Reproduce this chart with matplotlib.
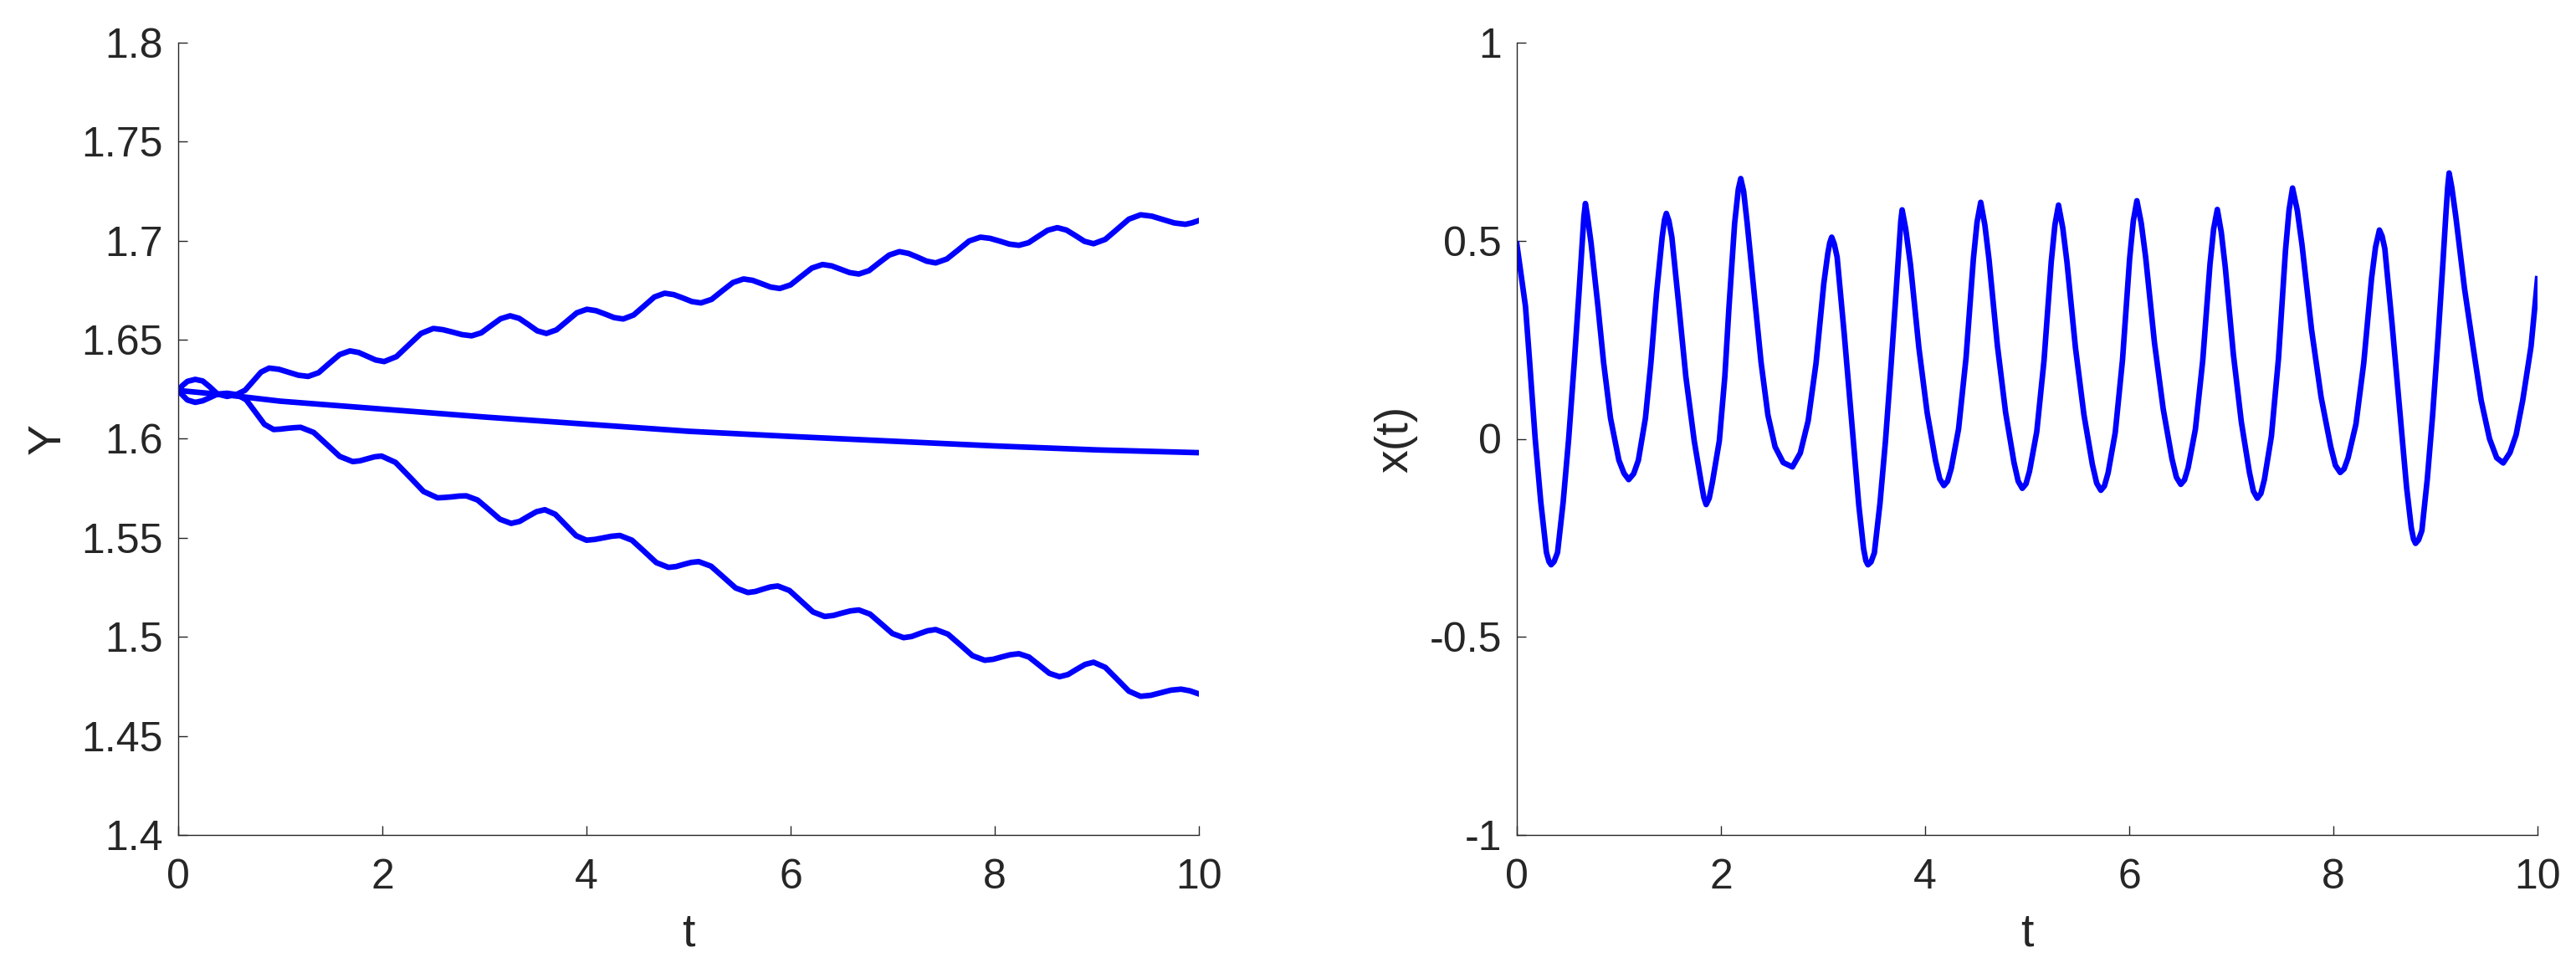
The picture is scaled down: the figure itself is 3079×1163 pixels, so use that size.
import matplotlib
matplotlib.use("Agg")
import matplotlib.pyplot as plt

# ---------------- data ----------------
# Left panel: three trajectories Y(t)
t_mid = [0, 0.5, 1, 1.5, 2, 3, 4, 5, 6, 7, 8, 9, 10]
y_mid = [1.6244, 1.6220, 1.6190, 1.6170, 1.6150, 1.6110, 1.6074, 1.6038,
         1.6012, 1.5988, 1.5964, 1.5944, 1.5930]

t_up = [0.000, 0.040, 0.090, 0.167, 0.240, 0.310, 0.385, 0.480, 0.576,
        0.655, 0.734, 0.812, 0.891, 0.987, 1.082, 1.178, 1.273,
        1.376, 1.478, 1.581, 1.683, 1.767, 1.851, 1.934, 2.018,
        2.138, 2.259, 2.379, 2.499, 2.593, 2.687, 2.781, 2.875,
        2.969, 3.064, 3.158, 3.252, 3.341, 3.430, 3.518, 3.607,
        3.706, 3.806, 3.905, 4.004, 4.093, 4.182, 4.271, 4.360,
        4.462, 4.563, 4.665, 4.766, 4.855, 4.944, 5.032, 5.121,
        5.226, 5.330, 5.435, 5.539, 5.628, 5.717, 5.805, 5.894,
        5.999, 6.104, 6.208, 6.313, 6.402, 6.491, 6.579, 6.668,
        6.768, 6.867, 6.967, 7.066, 7.155, 7.244, 7.332, 7.421,
        7.531, 7.641, 7.750, 7.860, 7.954, 8.049, 8.143, 8.237,
        8.331, 8.425, 8.519, 8.613, 8.702, 8.791, 8.879, 8.968,
        9.083, 9.199, 9.314, 9.429, 9.539, 9.648, 9.758, 9.867,
        9.930, 10.000]
y_up = [1.6244, 1.6268, 1.6290, 1.6300, 1.6292, 1.6262, 1.6226, 1.6214, 1.6225,
        1.6245, 1.6291, 1.6337, 1.6357, 1.6351, 1.6336, 1.6321, 1.6315,
        1.6334, 1.6380, 1.6425, 1.6444, 1.6436, 1.6417, 1.6398, 1.6390,
        1.6415, 1.6474, 1.6532, 1.6557, 1.6551, 1.6539, 1.6526, 1.6520,
        1.6535, 1.6571, 1.6606, 1.6621, 1.6608, 1.6577, 1.6545, 1.6532,
        1.6550, 1.6593, 1.6636, 1.6654, 1.6647, 1.6630, 1.6612, 1.6605,
        1.6625, 1.6670, 1.6716, 1.6735, 1.6728, 1.6711, 1.6693, 1.6686,
        1.6704, 1.6747, 1.6789, 1.6807, 1.6800, 1.6783, 1.6766, 1.6759,
        1.6777, 1.6820, 1.6862, 1.6880, 1.6873, 1.6856, 1.6839, 1.6832,
        1.6849, 1.6889, 1.6928, 1.6945, 1.6936, 1.6917, 1.6897, 1.6888,
        1.6908, 1.6953, 1.6999, 1.7018, 1.7012, 1.6998, 1.6983, 1.6977,
        1.6990, 1.7022, 1.7053, 1.7066, 1.7054, 1.7026, 1.6997, 1.6985,
        1.7007, 1.7058, 1.7109, 1.7131, 1.7124, 1.7107, 1.7090, 1.7083,
        1.7090, 1.7102]

t_low = [0.000, 0.040, 0.090, 0.167, 0.240, 0.310, 0.385, 0.480, 0.576,
         0.666, 0.756, 0.845, 0.935, 1.001, 1.068, 1.134, 1.200,
         1.328, 1.455, 1.583, 1.710, 1.781, 1.851, 1.922, 1.992,
         2.129, 2.267, 2.404, 2.541, 2.612, 2.682, 2.753, 2.823,
         2.933, 3.043, 3.152, 3.262, 3.345, 3.427, 3.510, 3.592,
         3.694, 3.796, 3.898, 4.000, 4.082, 4.164, 4.245, 4.327,
         4.446, 4.565, 4.684, 4.803, 4.877, 4.952, 5.026, 5.100,
         5.220, 5.341, 5.461, 5.581, 5.654, 5.728, 5.801, 5.874,
         5.989, 6.104, 6.219, 6.334, 6.418, 6.501, 6.585, 6.668,
         6.778, 6.888, 6.997, 7.107, 7.186, 7.264, 7.343, 7.421,
         7.541, 7.662, 7.782, 7.902, 7.986, 8.070, 8.153, 8.237,
         8.336, 8.436, 8.535, 8.634, 8.718, 8.801, 8.885, 8.968,
         9.083, 9.199, 9.314, 9.429, 9.528, 9.627, 9.726, 9.825,
         9.910, 10.000]
y_low = [1.6244, 1.6222, 1.6196, 1.6184, 1.6192, 1.6208, 1.6226, 1.6230, 1.6223,
         1.6197, 1.6135, 1.6073, 1.6047, 1.6049, 1.6053, 1.6056, 1.6058,
         1.6032, 1.5972, 1.5911, 1.5885, 1.5889, 1.5899, 1.5909, 1.5913,
         1.5881, 1.5808, 1.5734, 1.5702, 1.5704, 1.5707, 1.5711, 1.5712,
         1.5691, 1.5643, 1.5594, 1.5573, 1.5583, 1.5608, 1.5632, 1.5642,
         1.5619, 1.5565, 1.5511, 1.5488, 1.5492, 1.5500, 1.5508, 1.5512,
         1.5488, 1.5432, 1.5375, 1.5351, 1.5355, 1.5366, 1.5376, 1.5380,
         1.5357, 1.5302, 1.5247, 1.5224, 1.5229, 1.5241, 1.5252, 1.5257,
         1.5234, 1.5180, 1.5126, 1.5103, 1.5108, 1.5120, 1.5131, 1.5136,
         1.5115, 1.5066, 1.5017, 1.4996, 1.5002, 1.5017, 1.5031, 1.5037,
         1.5014, 1.4960, 1.4905, 1.4882, 1.4887, 1.4899, 1.4910, 1.4915,
         1.4898, 1.4857, 1.4816, 1.4799, 1.4810, 1.4836, 1.4861, 1.4872,
         1.4846, 1.4786, 1.4726, 1.4700, 1.4705, 1.4718, 1.4731, 1.4736,
         1.4728, 1.4712]

# Right panel: x(t)
t_x = [0.000, 0.085, 0.126, 0.180, 0.235, 0.290, 0.315, 0.336,
       0.365, 0.399, 0.454, 0.508, 0.563, 0.609, 0.642, 0.657, 0.672,
       0.690, 0.727, 0.795, 0.850, 0.918, 1.000, 1.050, 1.096,
       1.145, 1.191, 1.260, 1.314, 1.369, 1.424, 1.447, 1.465,
       1.490, 1.519, 1.588, 1.656, 1.738, 1.806, 1.832, 1.855,
       1.885, 1.916, 1.984, 2.038, 2.079, 2.134, 2.170, 2.194,
       2.222, 2.257, 2.325, 2.393, 2.460, 2.530, 2.610, 2.700,
       2.777, 2.854, 2.931, 3.008, 3.047, 3.066, 3.085,
       3.110, 3.138, 3.209, 3.280, 3.351, 3.397, 3.420, 3.440,
       3.470, 3.503, 3.558, 3.612, 3.666, 3.712, 3.745, 3.762, 3.775,
       3.810, 3.857, 3.939, 4.020, 4.102, 4.143, 4.184,
       4.220, 4.256, 4.328, 4.401, 4.473, 4.509, 4.545,
       4.586, 4.626, 4.708, 4.789, 4.871, 4.912, 4.952,
       4.988, 5.023, 5.094, 5.165, 5.236, 5.272, 5.307,
       5.349, 5.390, 5.473, 5.556, 5.639, 5.681, 5.722,
       5.757, 5.793, 5.863, 5.934, 6.004, 6.040, 6.075,
       6.118, 6.161, 6.247, 6.333, 6.419, 6.462, 6.505,
       6.541, 6.577, 6.648, 6.720, 6.791, 6.827, 6.863,
       6.902, 6.941, 7.020, 7.098, 7.177, 7.216, 7.255,
       7.290, 7.324, 7.393, 7.462, 7.531, 7.566, 7.600,
       7.647, 7.693, 7.787, 7.880, 7.974, 8.020, 8.067,
       8.105, 8.144, 8.221, 8.297, 8.374, 8.413, 8.451,
       8.477, 8.504, 8.575, 8.646, 8.717, 8.763, 8.785, 8.805,
       8.835, 8.867, 8.920, 8.973, 9.027, 9.072, 9.104, 9.120, 9.134,
       9.160, 9.200, 9.285, 9.370, 9.448, 9.530, 9.600, 9.664,
       9.730, 9.790, 9.855, 9.937, 10.000]
x_vals = [0.492, 0.334, 0.193, 0.000, -0.160, -0.287, -0.310, -0.318,
          -0.310, -0.287, -0.160, 0.000, 0.193, 0.368, 0.500, 0.560, 0.594,
          0.565, 0.495, 0.334, 0.193, 0.052, -0.054, -0.087, -0.103,
          -0.088, -0.054, 0.052, 0.193, 0.368, 0.509, 0.553, 0.569,
          0.550, 0.509, 0.334, 0.157, -0.005, -0.110, -0.148, -0.166,
          -0.150, -0.110, -0.005, 0.157, 0.334, 0.544, 0.630, 0.657,
          0.625, 0.544, 0.368, 0.193, 0.060, -0.020, -0.060, -0.071,
          -0.036, 0.045, 0.190, 0.393, 0.468, 0.495, 0.509,
          0.492, 0.459, 0.261, 0.046, -0.169, -0.277, -0.308, -0.318,
          -0.311, -0.288, -0.163, -0.005, 0.184, 0.356, 0.485, 0.550, 0.578,
          0.530, 0.439, 0.230, 0.066, -0.055, -0.101, -0.118,
          -0.107, -0.075, 0.025, 0.204, 0.454, 0.547, 0.597,
          0.539, 0.453, 0.236, 0.066, -0.060, -0.107, -0.125,
          -0.114, -0.082, 0.018, 0.197, 0.447, 0.540, 0.590,
          0.532, 0.446, 0.230, 0.061, -0.065, -0.112, -0.130,
          -0.119, -0.086, 0.016, 0.199, 0.455, 0.550, 0.601,
          0.544, 0.458, 0.243, 0.075, -0.051, -0.097, -0.115,
          -0.104, -0.073, 0.024, 0.197, 0.440, 0.530, 0.579,
          0.521, 0.433, 0.214, 0.043, -0.084, -0.132, -0.150,
          -0.138, -0.103, 0.007, 0.202, 0.476, 0.578, 0.633,
          0.576, 0.489, 0.274, 0.105, -0.020, -0.067, -0.085,
          -0.076, -0.048, 0.037, 0.190, 0.405, 0.484, 0.527,
          0.512, 0.480, 0.290, 0.084, -0.122, -0.224, -0.253, -0.264,
          -0.255, -0.232, -0.102, 0.062, 0.260, 0.439, 0.574, 0.635, 0.671,
          0.635, 0.560, 0.379, 0.230, 0.097, 0.000, -0.048, -0.061,
          -0.035, 0.010, 0.097, 0.234, 0.404]

x_ticks = [0, 2, 4, 6, 8, 10]
left_yticks = [1.4, 1.45, 1.5, 1.55, 1.6, 1.65, 1.7, 1.75, 1.8]
left_yticklabels = ["1.4", "1.45", "1.5", "1.55", "1.6", "1.65", "1.7", "1.75", "1.8"]
right_yticks = [-1, -0.5, 0, 0.5, 1]
right_yticklabels = ["-1", "-0.5", "0", "0.5", "1"]

# ---------------- figure ----------------
plt.rcParams['font.family'] = ['Liberation Sans', 'DejaVu Sans']
W, H = 3079, 1163
fig = plt.figure(figsize=(W / 100, H / 100), dpi=100)

axcol = '#262626'
blue = '#0000ff'
lw = 4.8

def style(ax, yticks, ylabels, ylim, ylabel, ylabel_x):
    ax.set_xlim(0, 10)
    ax.set_ylim(*ylim)
    ax.set_xticks(x_ticks)
    ax.set_xticklabels([str(v) for v in x_ticks])
    ax.set_yticks(yticks)
    ax.set_yticklabels(ylabels)
    for s in ['top', 'right']:
        ax.spines[s].set_visible(False)
    for s in ['left', 'bottom']:
        ax.spines[s].set_color(axcol)
        ax.spines[s].set_linewidth(1.0)
    ax.tick_params(axis='both', direction='in', length=8, width=1.0,
                   colors=axcol, labelsize=36, labelcolor=axcol)
    ax.tick_params(axis='y', pad=13)
    ax.tick_params(axis='x', pad=20)
    ax.set_xlabel('t', fontsize=40, color=axcol)
    ax.set_ylabel(ylabel, fontsize=40, color=axcol)
    ax.xaxis.set_label_coords(0.5, -0.098)
    ax.yaxis.set_label_coords(ylabel_x, 0.5)

ax1 = fig.add_axes([213 / W, (H - 998) / H, 1220 / W, 947 / H])
ax1.plot(t_up, y_up, color=blue, lw=lw, solid_joinstyle='round')
ax1.plot(t_low, y_low, color=blue, lw=lw, solid_joinstyle='round')
ax1.plot(t_mid, y_mid, color=blue, lw=lw, solid_joinstyle='round')
style(ax1, left_yticks, left_yticklabels, (1.4, 1.8), 'Y', -0.106)

ax2 = fig.add_axes([1813 / W, (H - 998) / H, 1220 / W, 947 / H])
ax2.plot(t_x, x_vals, color=blue, lw=lw, solid_joinstyle='round')
style(ax2, right_yticks, right_yticklabels, (-1, 1), 'x(t)', -0.097)

fig.savefig('out.png', dpi=100, facecolor='white')
